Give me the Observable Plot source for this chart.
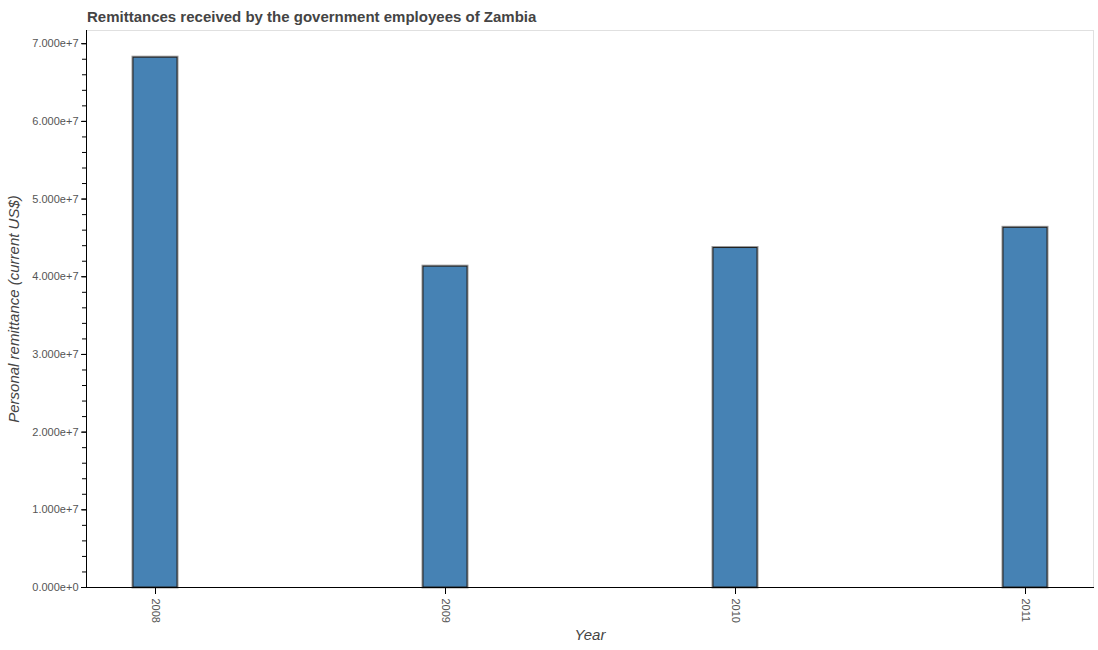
<!DOCTYPE html>
<html>
<head>
<meta charset="utf-8">
<script src="https://cdn.jsdelivr.net/npm/d3@7"></script>
<script src="https://cdn.jsdelivr.net/npm/@observablehq/plot@0.6"></script>
<style>
  html, body { margin: 0; padding: 0; background: #fff; }
  #title { height: 29px; box-sizing: border-box; padding-top: 8px; padding-left: 87px;
    font: bold 15px/17px "Liberation Sans", Arial, sans-serif; color: #444; white-space: nowrap; }
</style>
</head>
<body>
<div id="title">Remittances received by the government employees of Zambia</div>
<div id="chart"></div>
<script>
const years = ["2008", "2009", "2010", "2011"];
const values = [68200000, 41300000, 43700000, 46300000];
const majorTicks = [0, 1e7, 2e7, 3e7, 4e7, 5e7, 6e7, 7e7];
const yLabel = "Personal remittance (current US$)";
const xLabel = "Year";

const data = years.map((y, i) => ({year: y, value: values[i]}));
const minorTicks = d3.range(0, 7.1e7, 2e6);

const chart = Plot.plot({
  width: 1098,
  height: 621,
  marginLeft: 86,
  marginRight: 5,
  marginTop: 1,
  marginBottom: 63,
  style: {fontFamily: "'Liberation Sans', Arial, sans-serif", background: "#fff"},
  x: {type: "band", domain: years, paddingInner: 0.85, paddingOuter: 0.16, axis: null},
  y: {domain: [0, 7.17e7], axis: null},
  marks: [
    Plot.frame({stroke: "#e0e0e0"}),
    Plot.barY(data, {x: "year", y: "value", fill: "#4682b4", stroke: "#9a9a9a", strokeWidth: 3}),
    Plot.barY(data, {x: "year", y: "value", fill: "#4682b4", stroke: "#222", strokeWidth: 1}),
    Plot.axisY(minorTicks, {tickSize: 4, tickFormat: () => "", stroke: "#000", label: null}),
    Plot.axisY(majorTicks, {tickSize: 5, tickPadding: 3, tickFormat: d3.format(".3e"), fontSize: 11, fill: "#555", stroke: "#000", label: null}),
    Plot.axisX({tickSize: 7, tickRotate: 90, tickPadding: 4, fontSize: 11, fill: "#555", stroke: "#000", label: null}),
    Plot.frame({anchor: "left", stroke: "#000"}),
    Plot.frame({anchor: "bottom", stroke: "#000"}),
    Plot.text([yLabel], {frameAnchor: "left", textAnchor: "middle", rotate: -90, dx: -72, fontSize: 15, fontStyle: "italic", fill: "#444"}),
    Plot.text([xLabel], {frameAnchor: "bottom", dy: 52, fontSize: 15, fontStyle: "italic", fill: "#444"})
  ]
});
document.getElementById("chart").appendChild(chart);
</script>
</body>
</html>
